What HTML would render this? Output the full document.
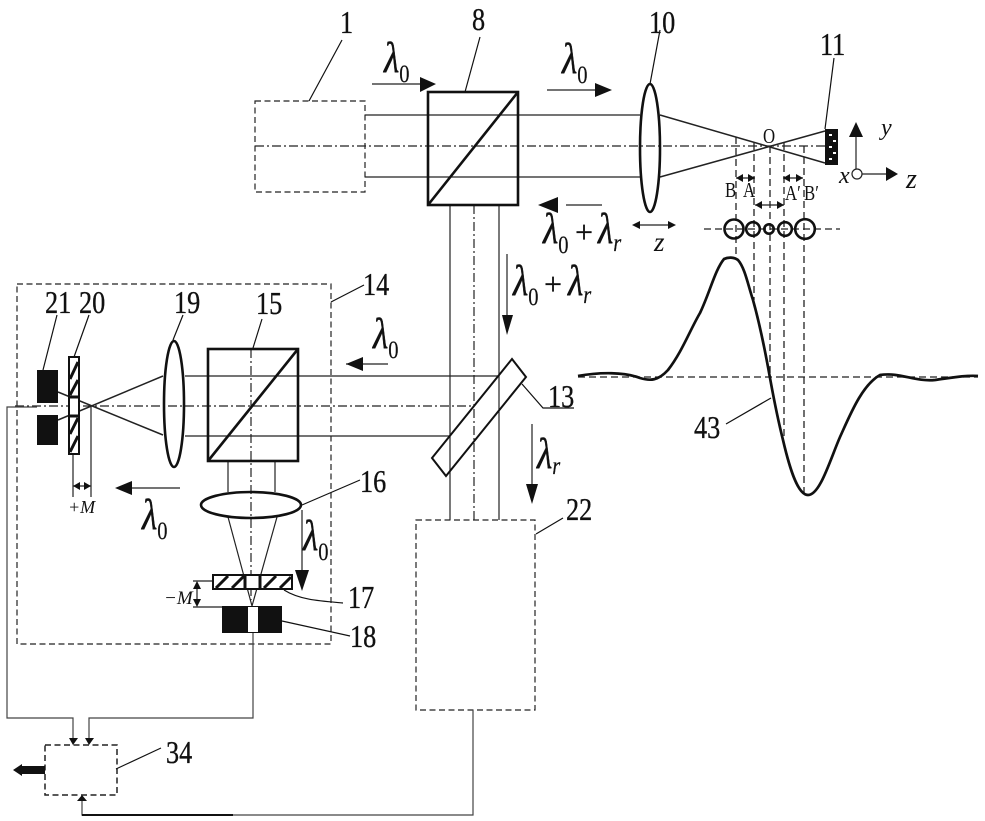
<!DOCTYPE html>
<html><head><meta charset="utf-8"><style>
html,body{margin:0;padding:0;background:#fff}
svg{display:block}
text{font-family:"Liberation Serif","DejaVu Serif",serif;fill:#111}
.n{font-size:32px;stroke:#111;stroke-width:.35}
.l{font-size:43px;font-style:italic;stroke:#111;stroke-width:.5}
.s{font-size:25px;font-style:normal;stroke-width:.2}
.r{font-size:25px;font-style:italic;stroke-width:.2}
.p{font-size:32px;stroke:#111;stroke-width:.3}
.t{font-size:21px}
.i{font-style:italic}
</style></head><body>
<svg width="985" height="821" viewBox="0 0 985 821" xmlns="http://www.w3.org/2000/svg">
<g fill="none" stroke="#222" stroke-width="1.2">
<!-- dashed boxes -->
<g stroke-dasharray="6 3.5">
<rect x="255" y="101" width="110" height="91"/>
<rect x="17" y="284" width="314" height="360"/>
<rect x="416" y="520" width="119" height="190"/>
<rect x="45" y="745" width="72" height="50" stroke-width="1.5"/>
</g>
<!-- beams -->
<path d="M365 115H640M365 177H640M450 205V520M499 205V520M185 376H498M185 436H450M228 461V492M275 461V492"/>
<path d="M660 115L825 163M660 177L825 131" stroke-width="1.5"/>
<path d="M163 376L58 393M163 376L92 406L58 420M163 435L92 406L58 392" stroke="none"/>
<path d="M163 376L58 420M163 435L58 392" stroke-width="1.5"/>
<path d="M228 517L252 606M277 517L252 606"/>
<!-- axes -->
<g stroke-dasharray="9 3 2 3">
<path d="M255 146H825M474 205V520M15 406H474M251 349V600"/>
</g>
<g stroke-dasharray="7 4" stroke-width="1.3">
<path d="M736 137V258M754 143V300M770 146V378M784 143V440M804 146V495"/>
<path d="M704 229H840M578 377H978"/>
</g>
<!-- cubes -->
<g stroke="#111" stroke-width="2.6">
<rect x="428" y="92" width="90" height="113" fill="none"/>
<path d="M428 205L518 92"/>
<rect x="208" y="349" width="90" height="112"/>
<path d="M208 461L298 349"/>
<ellipse cx="650" cy="148" rx="10" ry="64"/>
<ellipse cx="174" cy="404" rx="10" ry="63"/>
<ellipse cx="251" cy="505" rx="50" ry="13"/>
<path d="M512 359L526 377L446 476L432 458Z" stroke-width="2"/>
</g>
<!-- curve -->
<path d="M578 376C600 372 625 372 640 378C650 381 658 381 668 370C682 352 690 330 700 313C710 292 715 270 724 259C728 257 734 257 738 260C745 268 748 285 753 300C760 325 765 350 770 378C774 400 778 420 783 440C790 470 798 495 808 495C820 495 830 460 840 437C850 415 862 385 880 375C900 372 915 382 935 380C950 378 965 375 978 376" stroke="#111" stroke-width="2.7"/>
<!-- small circles -->
<g stroke="#111" stroke-width="2.6">
<circle cx="734" cy="229" r="9.5"/><circle cx="753" cy="229" r="6.8"/><circle cx="769" cy="229" r="4.7"/><circle cx="785" cy="229" r="6.8"/><circle cx="805" cy="229" r="9.8"/>
</g>
<!-- leaders -->
<path d="M309 101L342 40M465 92L480 37M650 84L660 30M825 129L834 58M253 348L262 319M173 340L183 315M43 370L57 315M74 357L89 315M302 505L360 480M331 302L364 285M522 384L543 408H574M284 590C300 600 320 601 343 603M282 621L350 636M116 769L161 748M726 424L771 398M536 534L563 518" stroke="#111"/>
<!-- signals -->
<path d="M37 407H7V718H73V738M253 633V718H89V738M473 710V815H82V800" stroke="#444"/>
<path d="M82 815H233" stroke="#111" stroke-width="2"/>
<!-- arrow shafts -->
<path d="M372 84H420M547 90H595M566 205H602M346 364H388M507 254V320M532 424V490M302 510V575M132 488H180M636 225H672"/>
<path d="M736 178H755M783 178H803M755 205H784M73 486H91M197 585V603M193 581H213M193 607H222M73 454V497M91 406V497M856 130V169M862 174H888" stroke="#222"/>
<circle cx="857" cy="174" r="5" fill="#fff"/>
</g>
<!-- detector 11 -->
<rect x="825" y="129" width="13" height="36" fill="#111"/>
<g fill="#fff"><rect x="829" y="134" width="3" height="2"/><rect x="833" y="140" width="3" height="2"/><rect x="829" y="146" width="3" height="2"/><rect x="833" y="152" width="3" height="2"/><rect x="829" y="158" width="3" height="2"/></g>
<!-- grids -->
<rect x="69" y="357" width="10" height="97" fill="#fff" stroke="#111" stroke-width="2"/>
<path d="M70 379L78 362M70 395L78 380M69 397H79M69 416H79M70 434L78 418M70 452L78 436" stroke="#111" stroke-width="3" fill="none"/>
<rect x="213" y="575" width="79" height="14" fill="#fff" stroke="#111" stroke-width="2"/>
<path d="M216 588L228 576M232 588L244 576M245 575V589M260 575V589M264 588L276 576M280 588L291 577" stroke="#111" stroke-width="3" fill="none"/>
<!-- detectors -->
<rect x="37" y="370" width="21" height="33" fill="#111"/><rect x="37" y="415" width="21" height="30" fill="#111"/>
<rect x="222" y="606" width="60" height="27" fill="#111"/><rect x="248" y="607" width="10" height="25" fill="#fff"/>
<!-- arrowheads -->
<g fill="#111">
<path d="M436 84L420 77V92ZM612 90L595 83V97ZM538 205L558 197V213ZM346 364L363 357V371ZM507 335L502 315H513ZM532 504L526 484H538ZM302 591L295 570H309ZM115 488L132 481V495Z"/>
<path d="M632 225L640 221V229ZM676 225L668 221V229ZM736 178L743 174V182ZM755 178L748 174V182ZM783 178L790 174V182ZM803 178L796 174V182ZM755 205L762 201V209ZM784 205L777 201V209Z"/>
<path d="M856 122L849 137H863ZM898 174L886 167V181Z"/>
<path d="M73 486L80 482V490ZM91 486L84 482V490ZM197 581L193 589H201ZM197 607L193 599H201Z"/>
<path d="M73 745L69 738H78ZM89 745L85 738H94ZM82 795L77 801H87Z"/>
<path d="M13 770L22 764V766H45V774H22V776Z"/>
</g>
<!-- numbers -->
<g class="n">
<text transform="translate(340,33) scale(.82,1)">1</text>
<text transform="translate(472,30) scale(.82,1)">8</text>
<text transform="translate(649,33) scale(.82,1)">10</text>
<text transform="translate(820,55) scale(.82,1)">11</text>
<text transform="translate(363,295) scale(.82,1)">14</text>
<text transform="translate(256,314) scale(.82,1)">15</text>
<text transform="translate(45,313) scale(.82,1)">21</text>
<text transform="translate(79,313) scale(.82,1)">20</text>
<text transform="translate(174,313) scale(.82,1)">19</text>
<text transform="translate(360,492) scale(.82,1)">16</text>
<text transform="translate(348,608) scale(.82,1)">17</text>
<text transform="translate(350,647) scale(.82,1)">18</text>
<text transform="translate(166,763) scale(.82,1)">34</text>
<text transform="translate(548,407) scale(.82,1)">13</text>
<text transform="translate(566,520) scale(.82,1)">22</text>
<text transform="translate(694,438) scale(.82,1)">43</text>
</g>
<!-- wavelengths -->
<text class="l" transform="translate(384,72) scale(.82,1)">λ<tspan class="s" dy="10">0</tspan></text>
<text class="l" transform="translate(562,73) scale(.82,1)">λ<tspan class="s" dy="10">0</tspan></text>
<text class="l" transform="translate(543,243) scale(.82,1)">λ<tspan class="s" dy="10">0</tspan></text>
<text class="p" x="575" y="243">+</text>
<text class="l" transform="translate(598,243) scale(.82,1)">λ<tspan class="r" dy="8">r</tspan></text>
<text class="l" transform="translate(513,295) scale(.82,1)">λ<tspan class="s" dy="10">0</tspan></text>
<text class="p" x="544" y="295">+</text>
<text class="l" transform="translate(568,295) scale(.82,1)">λ<tspan class="r" dy="8">r</tspan></text>
<text class="l" transform="translate(373,348) scale(.82,1)">λ<tspan class="s" dy="10">0</tspan></text>
<text class="l" transform="translate(537,468) scale(.82,1)">λ<tspan class="r" dy="6">r</tspan></text>
<text class="l" transform="translate(303,550) scale(.82,1)">λ<tspan class="s" dy="10">0</tspan></text>
<text class="l" transform="translate(142,529) scale(.82,1)">λ<tspan class="s" dy="10">0</tspan></text>
<!-- small labels -->
<text class="t" transform="translate(763,143) scale(.8,1)">O</text>
<text class="t" transform="translate(725,197) scale(.8,1)">B</text>
<text class="t" transform="translate(743,197) scale(.8,1)">A</text>
<text class="t" transform="translate(785,200) scale(.8,1)">A′</text>
<text class="t" transform="translate(804,200) scale(.8,1)">B′</text>
<text class="t i" x="881" y="135" style="font-size:24px">y</text>
<text class="t i" x="839" y="183" style="font-size:24px">x</text>
<text class="t i" x="906" y="188" style="font-size:28px">z</text>
<text class="t i" x="654" y="251" style="font-size:27px">z</text>
<text class="t i" x="68" y="513" style="font-size:18px">+M</text>
<text class="t i" x="164" y="604" style="font-size:19px">−M</text>
</svg>
</body></html>
